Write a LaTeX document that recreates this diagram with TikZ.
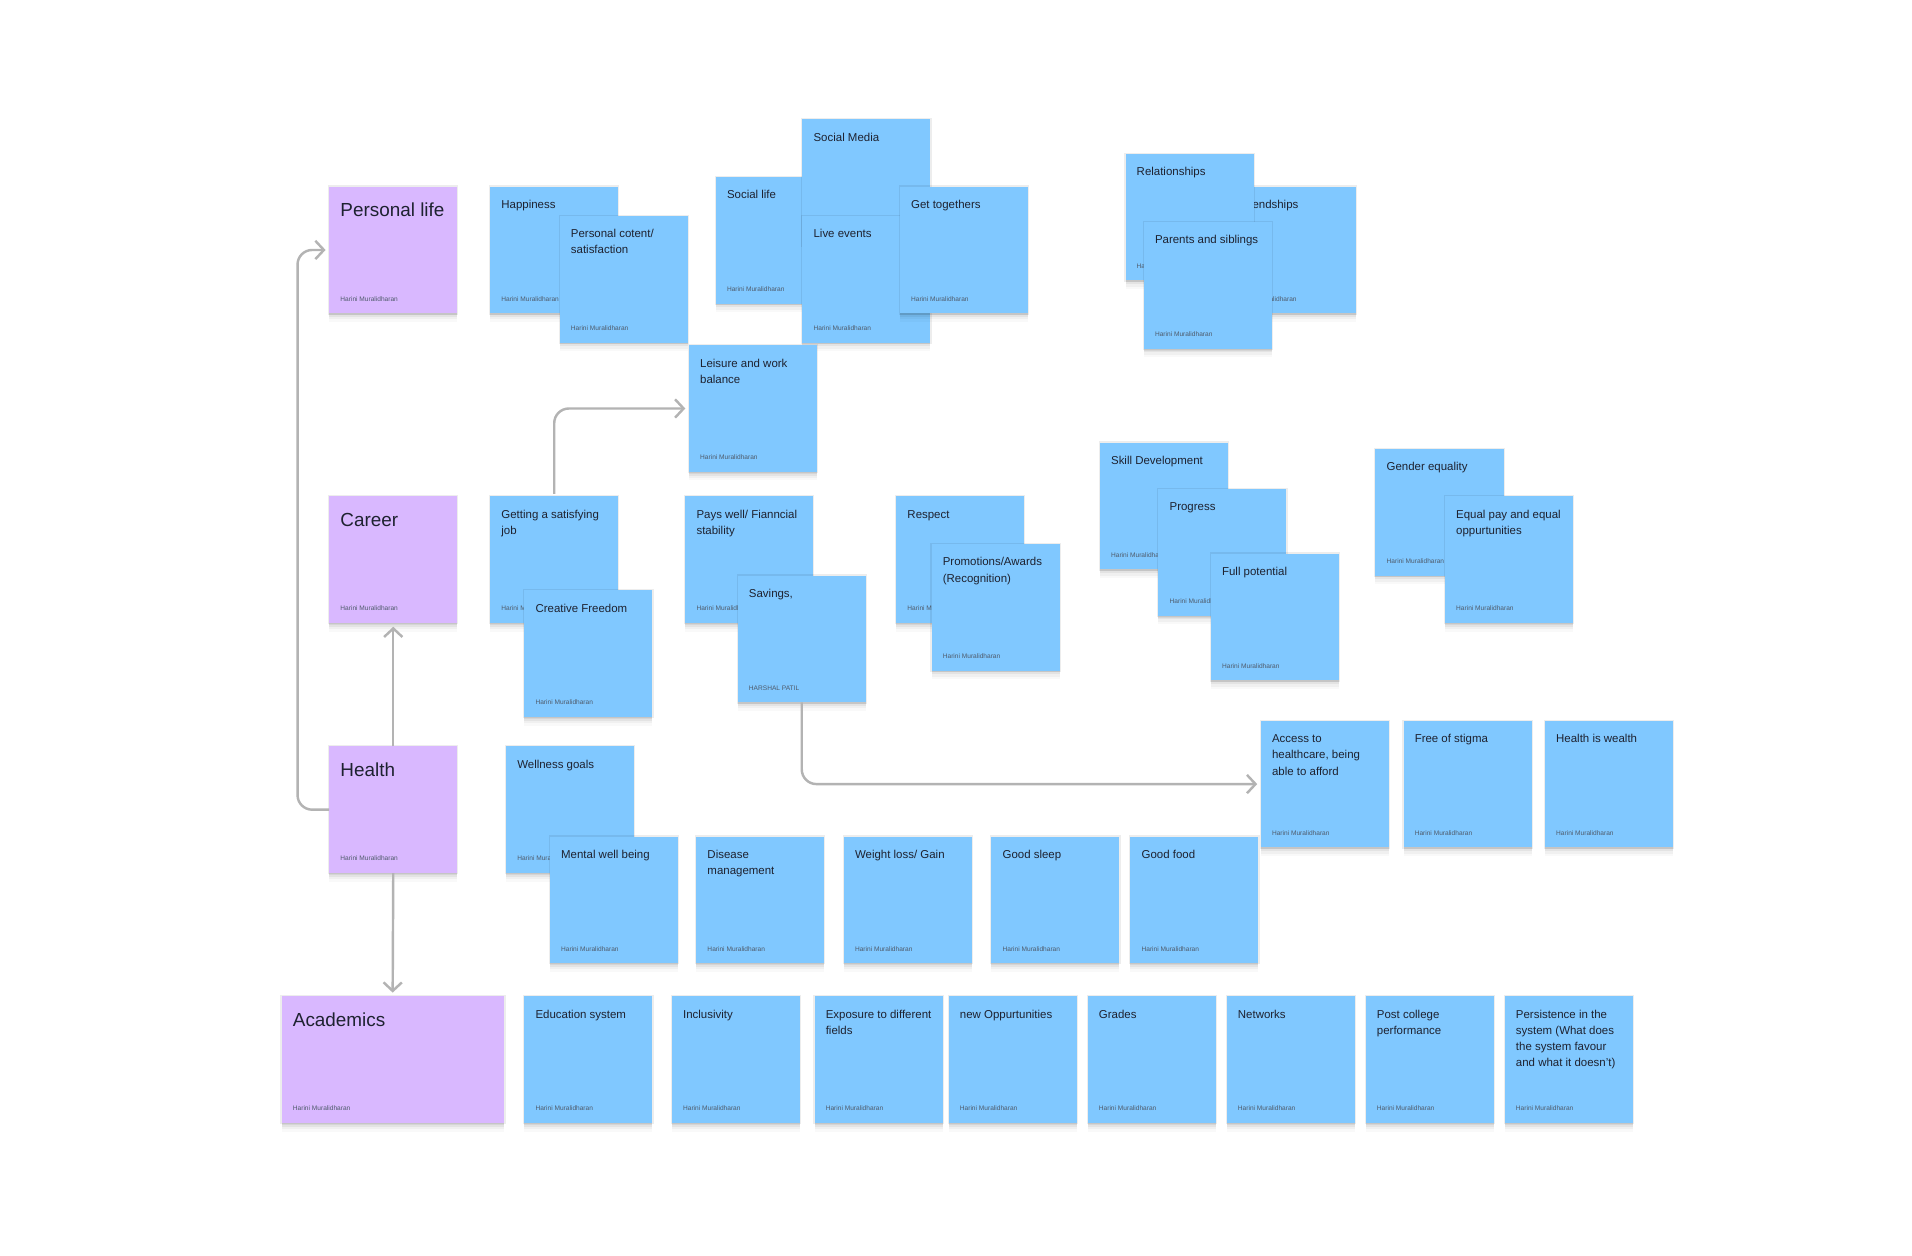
\documentclass[tikz,border=0pt]{standalone}
\usepackage{fontspec}
\setmainfont{Liberation Sans}
\usetikzlibrary{arrows.meta,shadows}

\definecolor{noteblue}{HTML}{80C8FF}
\definecolor{notepurple}{HTML}{D9B8FF}
\definecolor{notetext}{HTML}{1E2230}
\definecolor{authortext}{HTML}{4F5B6B}
\definecolor{linkgray}{HTML}{B3B3B3}

\tikzset{
  sticky/.style={inner sep=0pt, outer sep=0pt, minimum width=105pt, minimum height=104pt, anchor=north west,
    drop shadow={shadow xshift=0pt, shadow yshift=-7pt, opacity=0.025, fill=black},
    drop shadow={shadow xshift=0pt, shadow yshift=-5pt, opacity=0.035, fill=black},
    drop shadow={shadow xshift=0pt, shadow yshift=-3pt, opacity=0.05, fill=black},
    drop shadow={shadow xshift=0pt, shadow yshift=-1.5pt, opacity=0.06, fill=black},
    drop shadow={shadow xshift=0pt, shadow yshift=0pt, shadow scale=1.018, opacity=0.07, fill=black}},
  bluebox/.style={sticky, fill=noteblue},
  purplebox/.style={sticky, fill=notepurple},
  widebox/.style={purplebox, minimum width=182pt},
  smalltitle/.style={inner sep=0pt, anchor=base west, text=notetext, font=\fontsize{9.4}{13.3}\selectfont},
  bigtitle/.style={inner sep=0pt, anchor=base west, text=notetext, font=\fontsize{15.5}{18}\selectfont},
  authorline/.style={inner sep=0pt, anchor=base west, text=authortext, font=\fontsize{5.4}{6}\selectfont},
  conn/.style={draw=linkgray, line width=2pt, rounded corners=12pt,
    -{Straight Barb[length=7pt,width=15pt,line width=2pt]}, shorten >=3pt},
}

% #1 name, #2 box style, #3 title style, #4 title drop, #5 position, #6 title, #7 author
\newcommand\mknote[7]{%
  \node[#2] (#1) at (#5) {};
  \node[#3] (#1-title) at ([xshift=9pt,yshift=-#4pt]#1.north west) {\parbox[t]{92pt}{\raggedright #6}};
  \node[authorline] (#1-author) at ([xshift=9pt,yshift=10pt]#1.south west) {#7};
}
\newcommand\bnote[4]{\mknote{#1}{bluebox}{smalltitle}{18}{#2}{#3}{#4}}
\newcommand\pnote[4]{\mknote{#1}{purplebox}{bigtitle}{24.5}{#2}{#3}{#4}}

\begin{document}
\begin{tikzpicture}[x=1pt,y=-1pt]
\fill[white] (0,0) rectangle (1568,1030);
\useasboundingbox (0,0) rectangle (1568,1030);

\def\HM{Harini Muralidharan}

% categories
\pnote{personal}{270,153}{Personal life}{\HM}
\pnote{career}{270,407}{Career}{\HM}
\pnote{health}{270,612}{Health}{\HM}
\mknote{academics}{widebox}{bigtitle}{24.5}{231,817}{Academics}{\HM}

% personal life
\bnote{happiness}{402,153}{Happiness}{\HM}
\bnote{content}{459,177}{Personal cotent/\\satisfaction}{\HM}
\bnote{sociallife}{587,145}{Social life}{\HM}
\bnote{socialmedia}{658,98}{Social Media}{\HM}
\bnote{liveevents}{658,177}{Live events}{\HM}
\bnote{gettogethers}{738,153}{Get togethers}{\HM}
\bnote{friendships}{1007,153}{Friendships}{\HM}
\bnote{relationships}{923,126}{Relationships}{\HM}
\bnote{parents}{938,182}{Parents and siblings}{\HM}
\bnote{leisure}{565,283}{Leisure and work\\balance}{\HM}

% career
\bnote{getjob}{402,407}{Getting a satisfying\\job}{\HM}
\bnote{creative}{430,484}{Creative Freedom}{\HM}
\bnote{payswell}{562,407}{Pays well/ Fianncial\\stability}{\HM}
\bnote{savings}{605,472}{Savings,}{HARSHAL PATIL}
\bnote{respect}{735,407}{Respect}{\HM}
\bnote{promotions}{764,446}{Promotions/Awards\\(Recognition)}{\HM}
\bnote{skill}{902,363}{Skill Development}{\HM}
\bnote{progress}{950,401}{Progress}{\HM}
\bnote{fullpotential}{993,454}{Full potential}{\HM}
\bnote{gender}{1128,368}{Gender equality}{\HM}
\bnote{equalpay}{1185,407}{Equal pay and equal\\oppurtunities}{\HM}

% health
\bnote{access}{1034,591}{Access to\\healthcare, being\\able to afford}{\HM}
\bnote{stigma}{1151,591}{Free of stigma}{\HM}
\bnote{wealth}{1267,591}{Health is wealth}{\HM}
\bnote{wellness}{415,612}{Wellness goals}{\HM}
\bnote{mental}{451,686}{Mental well being}{\HM}
\bnote{disease}{571,686}{Disease\\management}{\HM}
\bnote{weight}{692,686}{Weight loss/ Gain}{\HM}
\bnote{sleep}{813,686}{Good sleep}{\HM}
\bnote{food}{927,686}{Good food}{\HM}

% academics
\bnote{education}{430,817}{Education system}{\HM}
\bnote{inclusivity}{551,817}{Inclusivity}{\HM}
\bnote{exposure}{668,817}{Exposure to different\\fields}{\HM}
\bnote{newopp}{778,817}{new Oppurtunities}{\HM}
\bnote{grades}{892,817}{Grades}{\HM}
\bnote{networks}{1006,817}{Networks}{\HM}
\bnote{postcollege}{1120,817}{Post college\\performance}{\HM}
\bnote{persistence}{1234,817}{Persistence in the\\system (What does\\the system favour\\and what it doesn't)}{\HM}

% connectors
\draw[conn] (health.west) -- ++(-26,0) |- (personal.west);
\draw[conn] (health.north) -- (career.south);
\draw[conn] (health.south) -- (academics.north);
\draw[conn, shorten <=2pt] (getjob.north) |- (leisure.west);
\draw[conn] (savings.south) |- (access.west);
\end{tikzpicture}
\end{document}
